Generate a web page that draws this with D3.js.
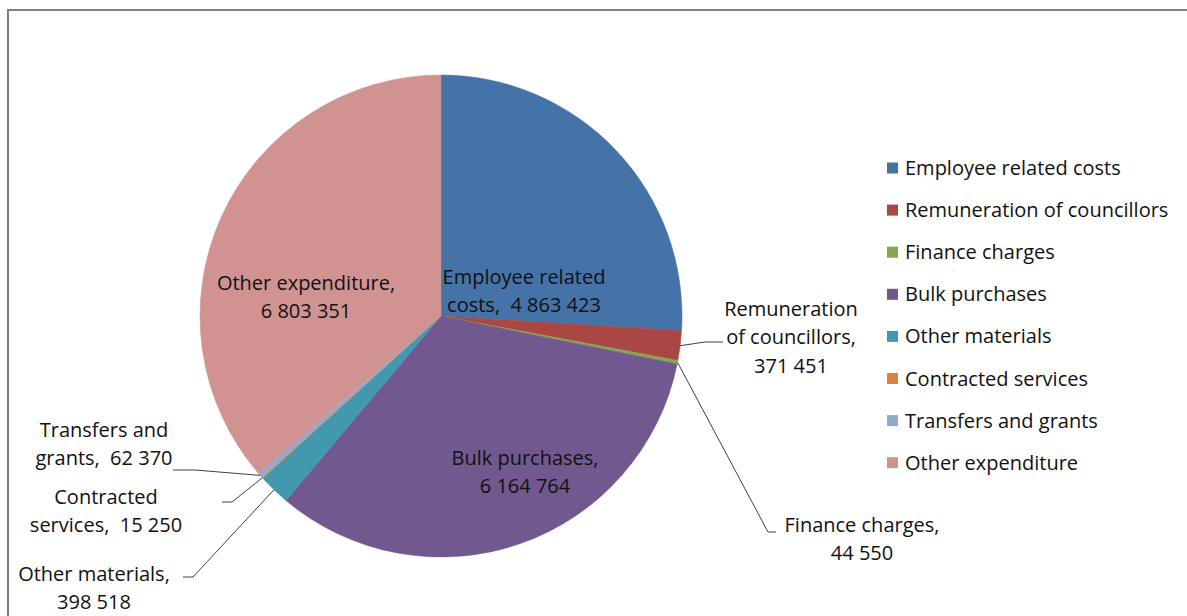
<!DOCTYPE html>
<html>
<head>
<meta charset="utf-8">
<script src="https://cdn.jsdelivr.net/npm/d3@7"></script>
<style>
  html, body { margin: 0; padding: 0; background: #fff; }
  svg text { font-family: "Open Sans", "Noto Sans", sans-serif; fill: #111; }
</style>
</head>
<body>
<svg id="chart" width="1187" height="616"></svg>
<script>
// Expenditure by type
const categories = [
  "Employee related costs",
  "Remuneration of councillors",
  "Finance charges",
  "Bulk purchases",
  "Other materials",
  "Contracted services",
  "Transfers and grants",
  "Other expenditure"
];
const values = [4863423, 371451, 44550, 6164764, 398518, 15250, 62370, 6803351];
const valueLabels = ["4 863 423", "371 451", "44 550", "6 164 764", "398 518", "15 250", "62 370", "6 803 351"];
const colors = ["#4572A7", "#AA4643", "#89A54E", "#71588F", "#4198AF", "#DB843D", "#93A9CF", "#D19392"];

// Label text lines (the value is substituted for {v})
const labelLines = [
  ["Employee related", "costs,  {v}"],
  ["Remuneration", "of councillors,", "{v}"],
  ["Finance charges,", "{v}"],
  ["Bulk purchases,", "{v}"],
  ["Other materials,", "{v}"],
  ["Contracted", "services,  {v}"],
  ["Transfers and", "grants,  {v}"],
  ["Other expenditure,", "{v}"]
];

// Layout
const W = 1187, H = 616;
const cx = 441, cy = 316, R = 241;
const fontSize = 20, lineH = 28.3;

// label block centre x and first-line y; leader: [elbow, end] (null = inside label)
const labelLayout = [
  { x: 524, y: 277, leader: null },
  { x: 791, y: 309, leader: [[705, 342], [723, 342]] },
  { x: 862, y: 525, leader: [[768, 532], [776, 532]] },
  { x: 525, y: 458, leader: null },
  { x: 94,  y: 574, leader: [[193, 577], [183, 577]] },
  { x: 106, y: 497, leader: [[232, 502], [222, 502]] },
  { x: 104, y: 430, leader: [[195, 470], [173, 470]] },
  { x: 306, y: 283, leader: null }
];

const svg = d3.select("#chart");

// chart frame
svg.append("rect")
  .attr("x", 8).attr("y", 10)
  .attr("width", W + 20).attr("height", H + 20)
  .attr("fill", "none")
  .attr("stroke", "#7f7f7f")
  .attr("stroke-width", 2);

const data = categories.map((c, i) => ({ name: c, value: values[i], label: valueLabels[i], color: colors[i], i }));

const pie = d3.pie().sort(null).value(d => d.value);
const arcs = pie(data);
const arc = d3.arc().innerRadius(0).outerRadius(R);
const edgeArc = d3.arc().innerRadius(R).outerRadius(R);

const g = svg.append("g").attr("transform", `translate(${cx},${cy})`);

g.selectAll("path.slice")
  .data(arcs)
  .join("path")
  .attr("class", "slice")
  .attr("d", arc)
  .attr("fill", d => d.data.color)
  .attr("stroke", d => d.data.color)
  .attr("stroke-width", 0.5);

// leader lines
const line = d3.line();
arcs.forEach((a, i) => {
  const L = labelLayout[i];
  if (!L.leader) return;
  const p = edgeArc.centroid(a);
  const pts = [[p[0] + cx, p[1] + cy], ...L.leader];
  svg.append("path")
    .attr("d", line(pts))
    .attr("fill", "none")
    .attr("stroke", "#404040")
    .attr("stroke-width", 1);
});

// data labels
arcs.forEach((a, i) => {
  const L = labelLayout[i];
  const t = svg.append("text")
    .attr("text-anchor", "middle")
    .attr("font-size", fontSize);
  labelLines[i].forEach((ln, k) => {
    t.append("tspan")
      .attr("x", L.x)
      .attr("y", L.y + k * lineH)
      .attr("dy", "0.35em")
      .style("white-space", "pre")
      .text(ln.replace("{v}", a.data.label));
  });
});

// legend
const legend = svg.append("g").attr("transform", "translate(887,168)");
const item = legend.selectAll("g")
  .data(data)
  .join("g")
  .attr("transform", (d, i) => `translate(0,${i * 42.1})`);
item.append("rect")
  .attr("x", 0).attr("y", -5.5)
  .attr("width", 11).attr("height", 11)
  .attr("fill", d => d.color);
item.append("text")
  .attr("x", 18).attr("y", 0)
  .attr("dy", "0.35em")
  .attr("font-size", fontSize)
  .text(d => d.name);
</script>
</body>
</html>
